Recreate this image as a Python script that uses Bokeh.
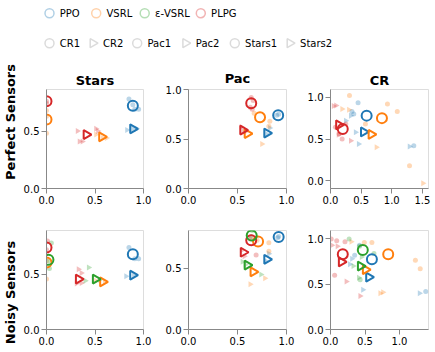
import math
from bokeh.plotting import figure
from bokeh.layouts import row, column
from bokeh.models import Range1d, FixedTicker, PrintfTickFormatter, ColumnDataSource
from bokeh.core.properties import value
from bokeh.embed import file_html
from bokeh.resources import INLINE

# ---------------- data ----------------
METHODS = ["PPO", "VSRL", "ε-VSRL", "PLPG"]
METHOD_COLORS = ["#1f77b4", "#ff7f0e", "#2ca02c", "#d62728"]
ENVS = ["Stars", "Pac", "CR"]
ROWS = ["Perfect Sensors", "Noisy Sensors"]
SHAPE_LABELS = ["CR1", "CR2", "Pac1", "Pac2", "Stars1", "Stars2"]
TICKS = [0.0, 0.5, 1.0, 1.5]

# mean results: (method, variant, x, y)
STARS_PERFECT_MEANS = [
    ("PPO", "Stars1", 0.89, 0.72), ("PPO", "Stars2", 0.89, 0.52),
    ("VSRL", "Stars1", 0.0, 0.60), ("VSRL", "Stars2", 0.57, 0.45),
    ("PLPG", "Stars1", 0.0, 0.76), ("PLPG", "Stars2", 0.41, 0.47),
]
PAC_PERFECT_MEANS = [
    ("PPO", "Pac1", 0.915, 0.74), ("PPO", "Pac2", 0.80, 0.56),
    ("VSRL", "Pac1", 0.73, 0.72), ("VSRL", "Pac2", 0.60, 0.555),
    ("PLPG", "Pac1", 0.64, 0.86), ("PLPG", "Pac2", 0.555, 0.59),
]
CR_PERFECT_MEANS = [
    ("PPO", "CR1", 0.59, 0.78), ("PPO", "CR2", 0.54, 0.585),
    ("VSRL", "CR1", 0.84, 0.75), ("VSRL", "CR2", 0.665, 0.555),
    ("PLPG", "CR1", 0.20, 0.62), ("PLPG", "CR2", 0.135, 0.67),
]
STARS_NOISY_MEANS = [
    ("PPO", "Stars1", 0.89, 0.68), ("PPO", "Stars2", 0.89, 0.49),
    ("VSRL", "Stars1", 0.0, 0.605), ("VSRL", "Stars2", 0.58, 0.43),
    ("ε-VSRL", "Stars1", 0.02, 0.63), ("ε-VSRL", "Stars2", 0.505, 0.455),
    ("PLPG", "Stars1", 0.0, 0.74), ("PLPG", "Stars2", 0.33, 0.455),
]
PAC_NOISY_MEANS = [
    ("PPO", "Pac1", 0.92, 0.757), ("PPO", "Pac2", 0.80, 0.574),
    ("VSRL", "Pac1", 0.71, 0.72), ("VSRL", "Pac2", 0.66, 0.472),
    ("PLPG", "Pac1", 0.64, 0.73), ("PLPG", "Pac2", 0.56, 0.632),
    ("ε-VSRL", "Pac1", 0.645, 0.77), ("ε-VSRL", "Pac2", 0.60, 0.527),
]
CR_NOISY_MEANS = [
    ("PPO", "CR1", 0.60, 0.776), ("PPO", "CR2", 0.555, 0.578),
    ("VSRL", "CR1", 0.836, 0.832), ("VSRL", "CR2", 0.507, 0.66),
    ("ε-VSRL", "CR1", 0.468, 0.877), ("ε-VSRL", "CR2", 0.435, 0.70),
    ("PLPG", "CR1", 0.178, 0.832), ("PLPG", "CR2", 0.159, 0.746),
]

# individual runs: (method, variant, x, y)
STARS_PERFECT_RUNS = [
    ("PPO", "Stars1", 0.85, 0.78), ("PPO", "Stars1", 0.91, 0.69), ("PPO", "Stars1", 0.95, 0.69),
    ("PPO", "Stars1", 0.89, 0.73),
    ("PPO", "Stars2", 0.83, 0.51), ("PPO", "Stars2", 0.89, 0.52), ("PPO", "Stars2", 0.93, 0.52),
    ("VSRL", "Stars1", 0.0, 0.63), ("VSRL", "Stars1", 0.0, 0.48), ("VSRL", "Stars1", 0.0, 0.68),
    ("VSRL", "Stars2", 0.51, 0.47), ("VSRL", "Stars2", 0.58, 0.44), ("VSRL", "Stars2", 0.62, 0.44),
    ("PLPG", "Stars1", 0.0, 0.76), ("PLPG", "Stars1", 0.0, 0.74),
    ("PLPG", "Stars2", 0.32, 0.50), ("PLPG", "Stars2", 0.34, 0.41), ("PLPG", "Stars2", 0.51, 0.52),
    ("PLPG", "Stars2", 0.53, 0.50), ("PLPG", "Stars2", 0.37, 0.41),
]
PAC_PERFECT_RUNS = [
    ("PPO", "Pac1", 0.92, 0.75), ("PPO", "Pac1", 0.90, 0.74),
    ("PPO", "Pac2", 0.83, 0.61), ("PPO", "Pac2", 0.80, 0.55),
    ("VSRL", "Pac1", 0.83, 0.68), ("VSRL", "Pac1", 0.82, 0.63), ("VSRL", "Pac1", 0.67, 0.76),
    ("VSRL", "Pac2", 0.75, 0.45), ("VSRL", "Pac2", 0.58, 0.57),
    ("PLPG", "Pac1", 0.64, 0.92), ("PLPG", "Pac1", 0.65, 0.80), ("PLPG", "Pac1", 0.63, 0.82),
    ("PLPG", "Pac1", 0.66, 0.89),
    ("PLPG", "Pac2", 0.54, 0.62), ("PLPG", "Pac2", 0.56, 0.58),
]
CR_PERFECT_RUNS = [
    ("PPO", "CR1", 0.45, 0.935), ("PPO", "CR1", 0.35, 0.83), ("PPO", "CR1", 0.38, 0.80),
    ("PPO", "CR1", 1.36, 0.42),
    ("PPO", "CR2", 0.33, 0.78), ("PPO", "CR2", 0.25, 0.72), ("PPO", "CR2", 0.41, 0.58),
    ("PPO", "CR2", 0.46, 0.44), ("PPO", "CR2", 1.29, 0.41),
    ("VSRL", "CR1", 0.31, 1.02), ("VSRL", "CR1", 0.93, 0.92), ("VSRL", "CR1", 1.09, 0.83),
    ("VSRL", "CR1", 0.57, 0.68), ("VSRL", "CR1", 1.29, 0.18),
    ("VSRL", "CR2", 0.19, 0.86), ("VSRL", "CR2", 0.30, 0.85), ("VSRL", "CR2", 0.75, 0.40),
    ("VSRL", "CR2", 1.51, -0.03),
    ("PLPG", "CR1", 0.08, 0.64), ("PLPG", "CR1", 0.14, 0.56), ("PLPG", "CR1", 0.19, 0.50),
    ("PLPG", "CR1", 0.25, 0.68),
    ("PLPG", "CR2", 0.05, 0.895), ("PLPG", "CR2", 0.09, 0.90), ("PLPG", "CR2", 0.33, 0.48),
    ("PLPG", "CR2", 0.13, 0.55),
]
STARS_NOISY_RUNS = [
    ("PPO", "Stars1", 0.85, 0.74), ("PPO", "Stars1", 0.91, 0.64), ("PPO", "Stars1", 0.95, 0.64),
    ("PPO", "Stars2", 0.82, 0.48), ("PPO", "Stars2", 0.90, 0.49),
    ("VSRL", "Stars1", 0.0, 0.455), ("VSRL", "Stars1", 0.0, 0.62),
    ("VSRL", "Stars2", 0.51, 0.44), ("VSRL", "Stars2", 0.60, 0.43),
    ("ε-VSRL", "Stars1", 0.05, 0.78), ("ε-VSRL", "Stars1", 0.03, 0.55), ("ε-VSRL", "Stars1", 0.02, 0.62),
    ("ε-VSRL", "Stars2", 0.435, 0.56), ("ε-VSRL", "Stars2", 0.40, 0.44), ("ε-VSRL", "Stars2", 0.55, 0.45),
    ("PLPG", "Stars1", 0.01, 0.80), ("PLPG", "Stars1", 0.0, 0.72),
    ("PLPG", "Stars2", 0.33, 0.545), ("PLPG", "Stars2", 0.36, 0.51), ("PLPG", "Stars2", 0.31, 0.415),
    ("PLPG", "Stars2", 0.36, 0.42),
]
PAC_NOISY_RUNS = [
    ("PPO", "Pac1", 0.92, 0.76), ("PPO", "Pac1", 0.91, 0.75),
    ("PPO", "Pac2", 0.82, 0.62), ("PPO", "Pac2", 0.79, 0.56),
    ("VSRL", "Pac1", 0.82, 0.71), ("VSRL", "Pac1", 0.82, 0.64), ("VSRL", "Pac1", 0.70, 0.73),
    ("VSRL", "Pac2", 0.78, 0.42), ("VSRL", "Pac2", 0.63, 0.37),
    ("ε-VSRL", "Pac1", 0.65, 0.81), ("ε-VSRL", "Pac1", 0.64, 0.76),
    ("ε-VSRL", "Pac2", 0.55, 0.555), ("ε-VSRL", "Pac2", 0.74, 0.45), ("ε-VSRL", "Pac2", 0.58, 0.53),
    ("PLPG", "Pac1", 0.69, 0.61), ("PLPG", "Pac1", 0.63, 0.74),
    ("PLPG", "Pac2", 0.55, 0.65), ("PLPG", "Pac2", 0.57, 0.60),
]
CR_NOISY_RUNS = [
    ("PPO", "CR1", 0.42, 0.93), ("PPO", "CR1", 0.35, 0.82), ("PPO", "CR1", 1.38, 0.42),
    ("PPO", "CR2", 0.31, 0.78), ("PPO", "CR2", 0.28, 0.72), ("PPO", "CR2", 0.47, 0.44),
    ("PPO", "CR2", 1.29, 0.40),
    ("VSRL", "CR1", 0.49, 0.96), ("VSRL", "CR1", 0.60, 0.96), ("VSRL", "CR1", 1.23, 0.765),
    ("VSRL", "CR1", 1.30, 0.67),
    ("VSRL", "CR2", 0.30, 0.97), ("VSRL", "CR2", 0.72, 0.40), ("VSRL", "CR2", 0.76, 0.41),
    ("ε-VSRL", "CR1", 0.27, 1.0), ("ε-VSRL", "CR1", 0.42, 0.92), ("ε-VSRL", "CR1", 0.63, 0.84),
    ("ε-VSRL", "CR1", 0.43, 0.55),
    ("ε-VSRL", "CR2", 0.33, 0.70), ("ε-VSRL", "CR2", 0.41, 0.57), ("ε-VSRL", "CR2", 0.45, 0.80),
    ("PLPG", "CR1", 0.01, 1.0), ("PLPG", "CR1", 0.09, 0.98), ("PLPG", "CR1", 0.21, 0.97),
    ("PLPG", "CR1", 0.06, 0.60),
    ("PLPG", "CR2", 0.02, 0.93), ("PLPG", "CR2", 0.10, 0.92), ("PLPG", "CR2", 0.23, 0.53),
    ("PLPG", "CR2", 0.43, 0.37),
]

# scale domains per panel
X_DOMAINS = {("Perfect Sensors", "Stars"): (0, 1), ("Perfect Sensors", "Pac"): (0, 1),
             ("Perfect Sensors", "CR"): (0, 1.6),
             ("Noisy Sensors", "Stars"): (0, 1), ("Noisy Sensors", "Pac"): (0, 1),
             ("Noisy Sensors", "CR"): (0, 1.42)}
Y_DOMAINS = {("Perfect Sensors", "Stars"): (0, 0.862), ("Perfect Sensors", "Pac"): (0, 1.0),
             ("Perfect Sensors", "CR"): (-0.093, 1.093),
             ("Noisy Sensors", "Stars"): (0, 0.894), ("Noisy Sensors", "Pac"): (0, 0.81),
             ("Noisy Sensors", "CR"): (0, 1.093)}

PANEL_DATA = {
    ("Perfect Sensors", "Stars"): (STARS_PERFECT_MEANS, STARS_PERFECT_RUNS),
    ("Perfect Sensors", "Pac"): (PAC_PERFECT_MEANS, PAC_PERFECT_RUNS),
    ("Perfect Sensors", "CR"): (CR_PERFECT_MEANS, CR_PERFECT_RUNS),
    ("Noisy Sensors", "Stars"): (STARS_NOISY_MEANS, STARS_NOISY_RUNS),
    ("Noisy Sensors", "Pac"): (PAC_NOISY_MEANS, PAC_NOISY_RUNS),
    ("Noisy Sensors", "CR"): (CR_NOISY_MEANS, CR_NOISY_RUNS),
}

FONT = "DejaVu Sans"


def build_source(records, circle_size, tri_size):
    xs, ys, colors, markers, angles, sizes = [], [], [], [], [], []
    for method, variant, x, y in records:
        tri = variant.endswith("2")
        xs.append(x)
        ys.append(y)
        colors.append(METHOD_COLORS[METHODS.index(method)])
        markers.append("triangle" if tri else "circle")
        angles.append(-math.pi / 2 if tri else 0.0)
        sizes.append(tri_size if tri else circle_size)
    return ColumnDataSource(dict(x=xs, y=ys, color=colors, marker=markers,
                                 angle=angles, size=sizes))


# layout: (width, min_border_left, min_border_right) per column
COL_LAYOUT = {"Stars": (133, 25, 10), "Pac": (143, 35, 10), "CR": (139, 34, 7)}
# (height, min_border_top, min_border_bottom) per row
ROW_LAYOUT = {"Perfect Sensors": (150, 29, 22), "Noisy Sensors": (142, 20, 23)}
TITLE_STANDOFF = {"Stars": 3, "Pac": 8, "CR": 4}


def make_panel(row_name, env):
    w, bl, br = COL_LAYOUT[env]
    h, bt, bb = ROW_LAYOUT[row_name]
    p = figure(width=w, height=h, output_backend="svg", toolbar_location=None,
               x_range=Range1d(*X_DOMAINS[(row_name, env)]),
               y_range=Range1d(*Y_DOMAINS[(row_name, env)]),
               min_border_left=bl, min_border_right=br,
               min_border_top=bt, min_border_bottom=bb,
               title=env if row_name == ROWS[0] else None)
    if row_name == ROWS[0]:
        p.title.align = "center"
        p.title.text_font = FONT
        p.title.text_font_size = "13px"
        p.title.text_font_style = "bold"
        p.title.text_color = "#000000"
        p.title.standoff = TITLE_STANDOFF[env]
    p.grid.visible = False
    p.outline_line_color = "#dddddd"
    p.background_fill_color = "white"
    p.border_fill_color = "white"
    for ax in (p.xaxis[0], p.yaxis[0]):
        ax.ticker = FixedTicker(ticks=TICKS)
        ax.formatter = PrintfTickFormatter(format="%.1f")
        ax.axis_line_color = "#888888"
        ax.major_tick_line_color = "#888888"
        ax.major_tick_out = 5
        ax.major_tick_in = 0
        ax.minor_tick_line_color = None
        ax.major_label_text_font = FONT
        ax.major_label_text_font_size = "10px"
        ax.major_label_text_color = "#000000"
        ax.major_label_standoff = 2
    means, runs = PANEL_DATA[(row_name, env)]
    rs = build_source(runs, 5, 6)
    ms = build_source(means, 10, 9)
    p.scatter("x", "y", source=rs, marker="marker", size="size", angle="angle",
              fill_color="color", fill_alpha=0.3, line_color=None)
    p.scatter("x", "y", source=ms, marker="marker", size="size", angle="angle",
              fill_color=None, line_color="color", line_width=2)
    return p


panel_rows = []
for rname in ROWS:
    panel_rows.append(row(*[make_panel(rname, env) for env in ENVS]))

# ---------------- legend (drawn in picture-pixel coordinates) ----------------
LEG_X0, LEG_W, LEG_H = 20, 415, 60
leg = figure(width=LEG_W, height=LEG_H, output_backend="svg", toolbar_location=None,
             x_range=Range1d(LEG_X0, LEG_X0 + LEG_W), y_range=Range1d(LEG_H, 0),
             x_axis_location=None, y_axis_location=None,
             min_border_left=0, min_border_right=0, min_border_top=0, min_border_bottom=0)
leg.grid.visible = False
leg.outline_line_color = None

COLOR_LEG_X = [49, 95.7, 144.2, 200.3]
COLOR_LEG_Y = 12.7
SHAPE_LEG_X = [49, 92.3, 136.7, 185, 234.3, 289.3]
SHAPE_LEG_Y = 42.7
LABEL_GAP = 10.3

leg.scatter(x=COLOR_LEG_X, y=[COLOR_LEG_Y] * len(METHODS), marker="circle", size=9,
            fill_color=None, line_color=METHOD_COLORS, line_alpha=0.35, line_width=1.5)
leg.text(x=[v + LABEL_GAP for v in COLOR_LEG_X], y=[COLOR_LEG_Y] * len(METHODS), text=METHODS,
         text_font=value(FONT), text_font_size="10px", text_baseline="middle",
         text_align="left", text_color="#000000")
shape_markers = ["triangle" if s.endswith("2") else "circle" for s in SHAPE_LABELS]
shape_angles = [-math.pi / 2 if s.endswith("2") else 0.0 for s in SHAPE_LABELS]
shape_sizes = [9 if s.endswith("2") else 9 for s in SHAPE_LABELS]
leg.scatter(x=SHAPE_LEG_X, y=[SHAPE_LEG_Y] * len(SHAPE_LABELS), marker=shape_markers,
            size=shape_sizes, angle=shape_angles,
            fill_color=None, line_color="#888888", line_alpha=0.3, line_width=1.5)
leg.text(x=[v + LABEL_GAP for v in SHAPE_LEG_X], y=[SHAPE_LEG_Y] * len(SHAPE_LABELS),
         text=SHAPE_LABELS, text_font=value(FONT), text_font_size="10px",
         text_baseline="middle", text_align="left", text_color="#000000")

# ---------------- row labels ----------------
LAB_W, LAB_H = 20, 352
lab = figure(width=LAB_W, height=LAB_H, output_backend="svg", toolbar_location=None,
             x_range=Range1d(0, LAB_W), y_range=Range1d(LAB_H, 0),
             x_axis_location=None, y_axis_location=None,
             min_border_left=0, min_border_right=0, min_border_top=0, min_border_bottom=0)
lab.grid.visible = False
lab.outline_line_color = None
lab.text(x=[10, 10], y=[121.5, 292], text=ROWS, angle=math.pi / 2,
         text_font=value(FONT), text_font_size="13px", text_font_style="bold",
         text_align="center", text_baseline="middle", text_color="#000000")

layout = row(lab, column(leg, *panel_rows))

with open("out.html", "w") as f:
    f.write(file_html(layout, INLINE))
